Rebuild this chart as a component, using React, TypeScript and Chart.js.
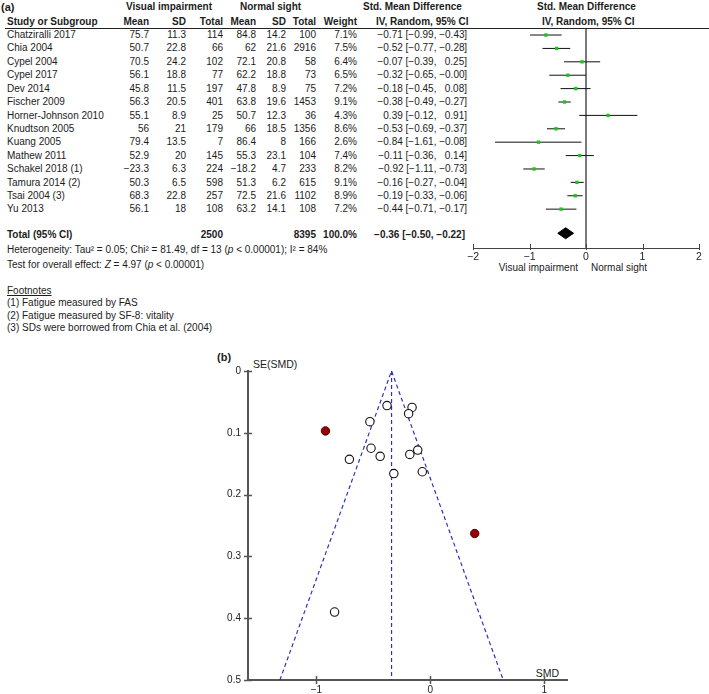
import React, { useEffect, useRef } from "react";
import { Chart, registerables } from "chart.js";
Chart.register(...registerables);

const FONT = "'Liberation Sans', Arial, Helvetica, sans-serif";
Chart.defaults.font.family = FONT;

// ---------- (a) forest plot data ----------
const studies = [
  "Chatziralli 2017", "Chia 2004", "Cypel 2004", "Cypel 2017", "Dev 2014", "Fischer 2009",
  "Horner-Johnson 2010", "Knudtson 2005", "Kuang 2005", "Mathew 2011", "Schakel 2018 (1)",
  "Tamura 2014 (2)", "Tsai 2004 (3)", "Yu 2013",
];
const viMean = [75.7, 50.7, 70.5, 56.1, 45.8, 56.3, 55.1, 56, 79.4, 52.9, -23.3, 50.3, 68.3, 56.1];
const viSD = [11.3, 22.8, 24.2, 18.8, 11.5, 20.5, 8.9, 21, 13.5, 20, 6.3, 6.5, 22.8, 18];
const viTotal = [114, 66, 102, 77, 197, 401, 25, 179, 7, 145, 224, 598, 257, 108];
const nsMean = [84.8, 62, 72.1, 62.2, 47.8, 63.8, 50.7, 66, 86.4, 55.3, -18.2, 51.3, 72.5, 63.2];
const nsSD = [14.2, 21.6, 20.8, 18.8, 8.9, 19.6, 12.3, 18.5, 8, 23.1, 4.7, 6.2, 21.6, 14.1];
const nsTotal = [100, 2916, 58, 73, 75, 1453, 36, 1356, 166, 104, 233, 615, 1102, 108];
const weight = [7.1, 7.5, 6.4, 6.5, 7.2, 9.1, 4.3, 8.6, 2.6, 7.4, 8.2, 9.1, 8.9, 7.2];
const smd = [-0.71, -0.52, -0.07, -0.32, -0.18, -0.38, 0.39, -0.53, -0.84, -0.11, -0.92, -0.16, -0.19, -0.44];
const ciLower = [-0.99, -0.77, -0.39, -0.65, -0.45, -0.49, -0.12, -0.69, -1.61, -0.36, -1.11, -0.27, -0.33, -0.71];
const ciUpper = [-0.43, -0.28, 0.25, -0.0, 0.08, -0.27, 0.91, -0.37, -0.08, 0.14, -0.73, -0.04, -0.06, -0.17];
const totalVI = 2500;
const totalNS = 8395;
const totalWeight = 100.0;
const pooledSmd = -0.36;
const pooledLower = -0.5;
const pooledUpper = -0.22;
const forestTicks = [-2, -1, 0, 1, 2];
const forestTickLabels = ["−2", "−1", "0", "1", "2"];

// ---------- (b) funnel plot data ----------
const seSmd = [0.143, 0.125, 0.163, 0.166, 0.135, 0.056, 0.263, 0.082, 0.39, 0.128, 0.097, 0.059, 0.069, 0.138];
const outlierStudies = ["Horner-Johnson 2010", "Schakel 2018 (1)"];
const funnelCenter = -0.34;
const funnelLeftAtBase = -1.32;
const funnelRightAtBase = 0.64;
const funnelBaseSe = 0.5;
const funnelXTicks = [-1, 0, 1];
const funnelXTickLabels = ["−1", "0", "1"];
const funnelYTicks = [0, 0.1, 0.2, 0.3, 0.4, 0.5];
const funnelYTickLabels = ["0", "0.1", "0.2", "0.3", "0.4", "0.5"];

// ---------- helpers ----------
const W = 709;
const fmtNum = (v: number) => (v < 0 ? "−" : "") + String(Math.abs(v));
const fmtCI = (v: number) => (v < 0 || Object.is(v, -0) ? "−" : "") + Math.abs(v).toFixed(2);

const crossTicks = {
  id: "crossTicks",
  afterDraw(chart: any, _args: any, opts: any) {
    const { ctx, chartArea } = chart;
    ctx.save();
    ctx.strokeStyle = opts.color;
    ctx.lineWidth = opts.width;
    if (opts.x) {
      const xs = chart.scales.x;
      for (const t of xs.ticks) {
        const px = Math.round(xs.getPixelForValue(t.value)) + 0.5;
        ctx.beginPath();
        ctx.moveTo(px, chartArea.bottom - opts.up);
        ctx.lineTo(px, chartArea.bottom + opts.down);
        ctx.stroke();
      }
    }
    if (opts.y) {
      const ys = chart.scales.y;
      for (const t of ys.ticks) {
        const py = Math.round(ys.getPixelForValue(t.value)) + 0.5;
        ctx.beginPath();
        ctx.moveTo(chartArea.left - opts.down, py);
        ctx.lineTo(chartArea.left + opts.up, py);
        ctx.stroke();
      }
    }
    ctx.restore();
  },
};

type TProps = {
  x: number;
  y: number;
  right?: boolean;
  bold?: boolean;
  size?: number;
  style?: React.CSSProperties;
  children: React.ReactNode;
};
const T = ({ x, y, right, bold, size = 10, style, children }: TProps) => {
  const lh = Math.round(size * 1.2);
  const pos: React.CSSProperties = right ? { right: W - x } : { left: x };
  return (
    <div
      style={{
        position: "absolute",
        top: y - lh / 2,
        ...pos,
        fontSize: size,
        lineHeight: lh + "px",
        fontWeight: bold ? "bold" : "normal",
        whiteSpace: "pre",
        ...style,
      }}
    >
      {children}
    </div>
  );
};

const ROW0 = 35;
const ROWH = 13.42;
const rowY = (i: number) => ROW0 + ROWH * i;

// ---------- forest chart ----------
function ForestChart() {
  const ref = useRef<HTMLCanvasElement>(null);
  useEffect(() => {
    const segs: any[] = [];
    studies.forEach((_, i) => {
      segs.push({ x: ciLower[i], y: i });
      segs.push({ x: ciUpper[i], y: i });
      segs.push({ x: ciUpper[i], y: null });
    });
    const totalRow = 14.8;
    const dh = 0.41;
    const chart = new Chart(ref.current!, {
      type: "line",
      data: {
        datasets: [
          {
            data: studies.map((_, i) => ({ x: smd[i], y: i })),
            showLine: false,
            pointStyle: "rect",
            pointRadius: 2.4,
            backgroundColor: "#1fc41f",
            borderColor: "#1fc41f",
            borderWidth: 0,
          },
          {
            data: [
              { x: pooledLower, y: totalRow },
              { x: pooledSmd, y: totalRow - dh },
              { x: pooledUpper, y: totalRow },
              { x: pooledSmd, y: totalRow + dh },
              { x: pooledLower, y: totalRow },
            ],
            borderColor: "#000",
            backgroundColor: "#000",
            borderWidth: 1,
            pointRadius: 0,
            fill: "shape",
          } as any,
          {
            data: segs,
            borderColor: "#111",
            borderWidth: 1,
            pointRadius: 0,
            spanGaps: false,
          },
          {
            data: [{ x: 0, y: -0.45 }, { x: 0, y: 15.9 }],
            borderColor: "#666",
            borderWidth: 1,
            pointRadius: 0,
          } as any,
        ],
      },
      options: {
        animation: false,
        responsive: false,
        events: [],
        layout: { padding: { left: 13, right: 10, top: 29, bottom: 0 } },
        plugins: {
          legend: { display: false },
          tooltip: { enabled: false },
          crossTicks: { x: true, y: false, up: 4, down: 2, color: "#444", width: 1 },
        } as any,
        scales: {
          x: {
            type: "linear",
            min: -2,
            max: 2,
            afterBuildTicks: (s: any) => {
              s.ticks = forestTicks.map((v) => ({ value: v }));
            },
            afterFit: (s: any) => {
              s.height = 37;
            },
            ticks: {
              callback: (v: any) => forestTickLabels[forestTicks.indexOf(Number(v))] ?? "",
              color: "#222",
              font: { size: 10.5 },
              padding: 0,
              maxRotation: 0,
            },
            grid: { drawOnChartArea: false, color: "rgba(0,0,0,0)", tickLength: 3 },
            border: { display: true, color: "#444", width: 1 },
          },
          y: {
            type: "linear",
            display: false,
            reverse: true,
            min: -0.45,
            max: 15.9,
          },
        },
      },
      plugins: [crossTicks as any],
    });
    return () => chart.destroy();
  }, []);
  return (
    <canvas
      ref={ref}
      width={249}
      height={285}
      style={{ position: "absolute", left: 460, top: 0, width: 249, height: 285, display: "block" }}
    />
  );
}

// ---------- funnel chart ----------
function FunnelChart() {
  const ref = useRef<HTMLCanvasElement>(null);
  useEffect(() => {
    const blue = "#3030bb";
    const pts = studies.map((s, i) => ({ s, x: smd[i], y: seSmd[i] }));
    const normal = pts.filter((p) => !outlierStudies.includes(p.s)).map(({ x, y }) => ({ x, y }));
    const outl = pts.filter((p) => outlierStudies.includes(p.s)).map(({ x, y }) => ({ x, y }));
    const chart = new Chart(ref.current!, {
      type: "line",
      data: {
        datasets: [
          {
            data: outl,
            showLine: false,
            pointRadius: 4.2,
            pointBackgroundColor: "#9a0000",
            pointBorderColor: "#4a0000",
            pointBorderWidth: 1,
          },
          {
            data: normal,
            showLine: false,
            pointRadius: 4.2,
            pointBackgroundColor: "#fff",
            pointBorderColor: "#111",
            pointBorderWidth: 1.1,
          },
          {
            data: [{ x: funnelCenter, y: 0 }, { x: funnelCenter, y: funnelBaseSe }],
            borderColor: blue,
            borderWidth: 1.2,
            borderDash: [4, 3],
            pointRadius: 0,
          },
          {
            data: [
              { x: funnelLeftAtBase, y: funnelBaseSe },
              { x: funnelCenter, y: 0 },
              { x: funnelRightAtBase, y: funnelBaseSe },
            ],
            borderColor: blue,
            borderWidth: 1.2,
            borderDash: [4, 3],
            pointRadius: 0,
          },
        ],
      },
      options: {
        animation: false,
        responsive: false,
        events: [],
        layout: { padding: { left: 0, right: 13, top: 16, bottom: 0 } },
        plugins: {
          legend: { display: false },
          tooltip: { enabled: false },
          crossTicks: { x: true, y: true, up: 4, down: 4, color: "#555", width: 1.5 },
        } as any,
        scales: {
          x: {
            type: "linear",
            min: -1.6,
            max: 1.2,
            afterBuildTicks: (s: any) => {
              s.ticks = funnelXTicks.map((v) => ({ value: v }));
            },
            afterFit: (s: any) => {
              s.height = 14;
            },
            ticks: {
              callback: (v: any) => funnelXTickLabels[funnelXTicks.indexOf(Number(v))] ?? "",
              color: "#222",
              font: { size: 10 },
              padding: 0,
              maxRotation: 0,
            },
            grid: { drawOnChartArea: false, color: "rgba(0,0,0,0)", tickLength: 4 },
            border: { display: true, color: "#555", width: 2 },
          },
          y: {
            type: "linear",
            reverse: true,
            min: 0,
            max: 0.5,
            afterBuildTicks: (s: any) => {
              s.ticks = funnelYTicks.map((v) => ({ value: v }));
            },
            afterFit: (s: any) => {
              s.width = 48;
            },
            ticks: {
              callback: (v: any) => {
                const i = funnelYTicks.findIndex((t) => Math.abs(t - Number(v)) < 1e-9);
                return i >= 0 ? funnelYTickLabels[i] : "";
              },
              color: "#222",
              font: { size: 10 },
              padding: 3,
            },
            grid: { drawOnChartArea: false, color: "rgba(0,0,0,0)", tickLength: 4 },
            border: { display: true, color: "#555", width: 2 },
          },
        },
      },
      plugins: [crossTicks as any],
    });
    return () => chart.destroy();
  }, []);
  return (
    <canvas
      ref={ref}
      width={380}
      height={339}
      style={{ position: "absolute", left: 200, top: 355, width: 380, height: 339, display: "block" }}
    />
  );
}

// ---------- App ----------
export default function App() {
  const ciRight = 467;
  return (
    <div
      style={{
        position: "absolute",
        left: 0,
        top: 0,
        width: W,
        height: 694,
        overflow: "hidden",
        background: "#fff",
        fontFamily: FONT,
        color: "#1c1c1c",
      }}
    >
      {/* header */}
      <T x={1} y={7} bold size={11}>(a)</T>
      <T x={126} y={7} bold>Visual impairment</T>
      <T x={240} y={7} bold>Normal sight</T>
      <T x={363} y={7} bold>Std. Mean Difference</T>
      <T x={537} y={7} bold>Std. Mean Difference</T>
      <T x={7} y={22} bold>Study or Subgroup</T>
      <T x={149} y={22} right bold>Mean</T>
      <T x={186} y={22} right bold>SD</T>
      <T x={223} y={22} right bold>Total</T>
      <T x={256} y={22} right bold>Mean</T>
      <T x={286} y={22} right bold>SD</T>
      <T x={316} y={22} right bold>Total</T>
      <T x={357} y={22} right bold>Weight</T>
      <T x={376} y={22} bold>IV, Random, 95% CI</T>
      <T x={542} y={22} bold>IV, Random, 95% CI</T>
      <div style={{ position: "absolute", left: 5, top: 28, width: W - 5, height: 1, background: "#222" }} />

      {/* rows */}
      {studies.map((s, i) => {
        const y = rowY(i);
        return (
          <React.Fragment key={s}>
            <T x={7} y={y}>{s}</T>
            <T x={149} y={y} right>{fmtNum(viMean[i])}</T>
            <T x={186} y={y} right>{fmtNum(viSD[i])}</T>
            <T x={223} y={y} right>{fmtNum(viTotal[i])}</T>
            <T x={256} y={y} right>{fmtNum(nsMean[i])}</T>
            <T x={286} y={y} right>{fmtNum(nsSD[i])}</T>
            <T x={316} y={y} right>{fmtNum(nsTotal[i])}</T>
            <T x={357} y={y} right>{weight[i].toFixed(1) + "%"}</T>
            <T x={ciRight} y={y} right>
              {fmtCI(smd[i])} [{fmtCI(ciLower[i])},{" "}
              <span style={{ display: "inline-block", width: 25, textAlign: "right" }}>{fmtCI(ciUpper[i])}</span>]
            </T>
          </React.Fragment>
        );
      })}

      {/* total */}
      <T x={7} y={235} bold>Total (95% CI)</T>
      <T x={223} y={235} right bold>{String(totalVI)}</T>
      <T x={316} y={235} right bold>{String(totalNS)}</T>
      <T x={357} y={235} right bold>{totalWeight.toFixed(1) + "%"}</T>
      <T x={465} y={235} right bold>
        {fmtCI(pooledSmd)} [{fmtCI(pooledLower)}, {fmtCI(pooledUpper)}]
      </T>
      <T x={7} y={250}>
        Heterogeneity: Tau² = 0.05; Chi² = 81.49, df = 13 (<i>p</i> &lt; 0.00001); I² = 84%
      </T>
      <T x={7} y={265}>
        Test for overall effect: <i>Z</i> = 4.97 (<i>p</i> &lt; 0.00001)
      </T>

      {/* forest axis labels */}
      <T x={578} y={268} right>Visual impairment</T>
      <T x={591} y={268}>Normal sight</T>

      {/* footnotes */}
      <T x={7} y={291} style={{ textDecoration: "underline" }}>Footnotes</T>
      <T x={7} y={303}>(1) Fatigue measured by FAS</T>
      <T x={7} y={316}>(2) Fatigue measured by SF-8: vitality</T>
      <T x={7} y={328}>(3) SDs were borrowed from Chia et al. (2004)</T>

      <ForestChart />

      {/* (b) */}
      <T x={217} y={357} bold size={11}>(b)</T>
      <T x={253} y={364} size={10.5}>SE(SMD)</T>
      <T x={559} y={673} right size={10.5}>SMD</T>
      <FunnelChart />
    </div>
  );
}
